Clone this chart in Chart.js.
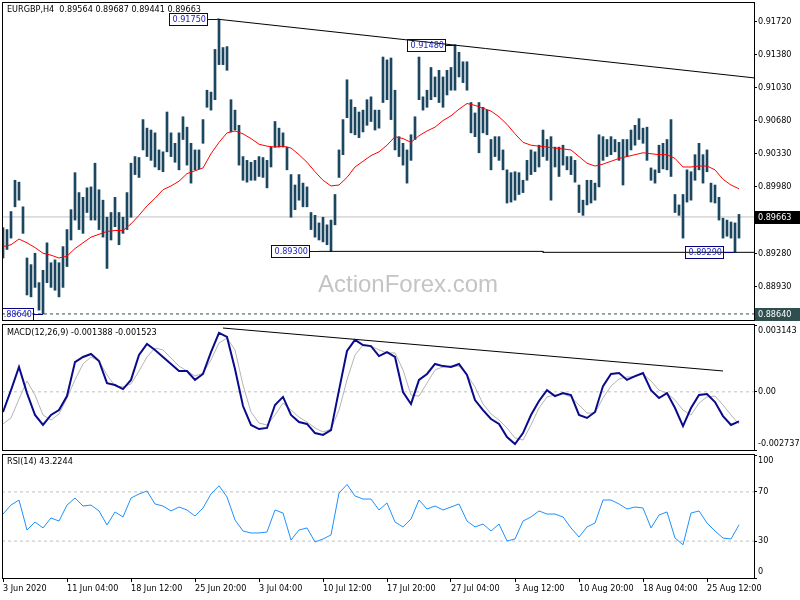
<!DOCTYPE html>
<html>
<head>
<meta charset="utf-8">
<script src="https://cdn.jsdelivr.net/npm/chart.js@4.4.1/dist/chart.umd.min.js"></script>
<style>
html, body { margin: 0; padding: 0; background: #fff; }
#wrap { position: relative; width: 800px; height: 600px; }
#wrap canvas { position: absolute; left: 0; top: 0; }
</style>
</head>
<body>
<div id="wrap">
  <canvas id="main" width="800" height="600"></canvas>
  <canvas id="macd" width="800" height="600"></canvas>
  <canvas id="rsi" width="800" height="600"></canvas>
</div>
<script>
// ---- data (one entry every 2nd bar) ----
const highs = [0.8955,0.8953,0.8972,0.9005,0.9003,0.8977,0.8923,0.8916,0.8928,0.8897,
  0.8910,0.8939,0.8918,0.8921,0.8918,0.8935,0.8953,0.8974,0.9013,0.8992,
  0.8987,0.8997,0.8998,0.9023,0.8995,0.8984,0.8966,0.8971,0.8987,0.8971,
  0.8966,0.8992,0.9023,0.9030,0.9029,0.9069,0.9060,0.9058,0.9055,0.9037,
  0.9035,0.9077,0.9055,0.9044,0.9055,0.9072,0.9061,0.9044,0.9037,0.9037,
  0.9069,0.9100,0.9098,0.9143,0.9175,0.9145,0.9146,0.9090,0.9079,0.9063,
  0.9030,0.9026,0.9024,0.9026,0.9030,0.9029,0.9026,0.9040,0.9067,0.9060,
  0.9055,0.9040,0.9011,0.9000,0.9011,0.9002,0.8998,0.8971,0.8968,0.8960,
  0.8966,0.8958,0.8963,0.8990,0.9037,0.9069,0.9111,0.9090,0.9082,0.9077,
  0.9079,0.9090,0.9093,0.9079,0.9079,0.9135,0.9132,0.9134,0.9100,0.9051,
  0.9044,0.9037,0.9053,0.9072,0.9135,0.9093,0.9100,0.9124,0.9114,0.9121,
  0.9114,0.9121,0.9124,0.9148,0.9140,0.9130,0.9130,0.9087,0.9076,0.9087,
  0.9082,0.9079,0.9048,0.9051,0.9051,0.9037,0.9016,0.9013,0.9014,0.9013,
  0.9005,0.9026,0.9037,0.9035,0.9042,0.9058,0.9048,0.9051,0.9040,0.9040,
  0.9042,0.9030,0.9030,0.9026,0.9000,0.8984,0.9005,0.9005,0.9002,0.9053,
  0.9051,0.9048,0.9051,0.9048,0.9045,0.9048,0.9048,0.9058,0.9063,0.9070,
  0.9060,0.9061,0.9018,0.9016,0.9042,0.9044,0.9048,0.9069,0.8990,0.8979,
  0.8990,0.9016,0.9014,0.9032,0.9044,0.9032,0.9037,0.9002,0.9000,0.8987,
  0.8965,0.8963,0.8961,0.8960,0.8969];
const lows = [0.8923,0.8932,0.8944,0.8977,0.8984,0.8949,0.8884,0.8882,0.8892,0.8868,
  0.8864,0.8897,0.8892,0.8889,0.8882,0.8892,0.8914,0.8942,0.8963,0.8953,
  0.8949,0.8971,0.8963,0.8963,0.8953,0.8945,0.8912,0.8942,0.8956,0.8937,
  0.8949,0.8953,0.8966,0.9011,0.9008,0.9037,0.9030,0.9026,0.9019,0.9016,
  0.9014,0.9035,0.9030,0.9024,0.9016,0.9048,0.9021,0.9002,0.9016,0.9017,
  0.9044,0.9082,0.9079,0.9090,0.9127,0.9127,0.9121,0.9056,0.9058,0.9021,
  0.9005,0.9003,0.9005,0.9005,0.9009,0.9008,0.8997,0.9019,0.9040,0.9040,
  0.9040,0.9016,0.8966,0.8974,0.8984,0.8977,0.8977,0.8953,0.8945,0.8942,
  0.8940,0.8937,0.8930,0.8958,0.9008,0.9032,0.9071,0.9055,0.9053,0.9050,
  0.9056,0.9063,0.9067,0.9058,0.9060,0.9087,0.9090,0.9069,0.9037,0.9030,
  0.9021,0.9002,0.9026,0.9048,0.9090,0.9079,0.9082,0.9090,0.9093,0.9087,
  0.9082,0.9095,0.9100,0.9100,0.9114,0.9108,0.9100,0.9055,0.9051,0.9034,
  0.9055,0.9053,0.9016,0.9030,0.9026,0.9016,0.8981,0.8982,0.8984,0.8990,
  0.8992,0.9005,0.9011,0.9014,0.9019,0.9030,0.9026,0.8984,0.9019,0.9009,
  0.9021,0.9016,0.9011,0.9003,0.8971,0.8968,0.8979,0.8981,0.8984,0.8998,
  0.9026,0.9030,0.9032,0.9035,0.9026,0.9000,0.9030,0.9037,0.9042,0.9048,
  0.9044,0.9026,0.9005,0.9002,0.9013,0.9017,0.9016,0.9009,0.8971,0.8968,
  0.8944,0.8982,0.8984,0.9005,0.9016,0.9002,0.9014,0.8982,0.8981,0.8963,
  0.8944,0.8946,0.8944,0.8929,0.8944];

// moving average, MACD and RSI (one entry every 4th bar)
const ma = [0.8935,0.8937,0.8943,0.8939,0.8934,0.8928,0.8926,0.8923,0.8925,0.8933,
  0.8939,0.8945,0.8948,0.8951,0.8952,0.8952,0.8959,0.8968,0.8978,0.8986,
  0.8995,0.8999,0.9004,0.9012,0.9015,0.9018,0.9033,0.9045,0.9055,0.9057,
  0.9054,0.9049,0.9043,0.9041,0.9040,0.9041,0.9039,0.9032,0.9024,0.9014,
  0.9005,0.8999,0.9000,0.9008,0.9019,0.9025,0.9031,0.9035,0.9042,0.9051,
  0.9049,0.9045,0.9052,0.9057,0.9061,0.9068,0.9073,0.9080,0.9086,0.9084,
  0.9081,0.9078,0.9072,0.9064,0.9054,0.9045,0.9042,0.9041,0.9040,0.9039,
  0.9038,0.9037,0.9030,0.9023,0.9020,0.9022,0.9025,0.9028,0.9030,0.9032,
  0.9034,0.9033,0.9032,0.9032,0.9028,0.9019,0.9019,0.9020,0.9020,0.9016,
  0.9006,0.9000,0.8996];
const macdMain = [-0.00095,0.00008,0.00117,-0.00006,-0.00109,-0.00156,-0.00109,-0.00086,-0.0002,0.0014,
  0.00164,0.00178,0.00145,0.00041,0.00032,0.00013,0.00056,0.00173,0.00225,0.00197,
  0.00164,0.00131,0.00098,0.00098,0.00056,0.00084,0.00187,0.00277,0.00258,0.00107,
  -0.00067,-0.00156,-0.00175,-0.0017,-0.00062,-0.00024,-0.00109,-0.00142,-0.00151,-0.00194,
  -0.00203,-0.0018,0.00008,0.00192,0.00244,0.0022,0.00215,0.00168,0.00187,0.00164,
  -0.00001,-0.00057,0.00056,0.00084,0.00131,0.00121,0.00117,0.00131,0.00079,-0.00039,
  -0.00086,-0.00128,-0.00151,-0.00213,-0.00246,-0.00194,-0.00109,-0.00043,0.00008,-0.0002,
  -0.00006,-0.00015,-0.00109,-0.00123,-0.00095,0.00027,0.00084,0.00088,0.00056,0.00074,
  0.00088,0.00008,-0.00029,-0.00006,-0.00076,-0.00161,-0.00076,-0.00015,-0.0001,-0.00048,
  -0.00114,-0.00156,-0.00139];
const macdSignal = [-0.00151,-0.00123,-0.00034,0.00051,-0.00015,-0.00109,-0.00133,-0.00104,-0.00029,0.00056,
  0.00131,0.00164,0.00145,0.00079,0.00027,0.00023,0.00037,0.00098,0.00164,0.00206,
  0.00197,0.00159,0.00121,0.00098,0.00074,0.00088,0.0015,0.0023,0.00253,0.00197,
  0.00032,-0.00095,-0.00147,-0.00156,-0.00109,-0.00053,-0.00086,-0.00119,-0.00142,-0.0017,
  -0.00189,-0.00175,-0.00086,0.00056,0.00173,0.0022,0.00215,0.00197,0.00183,0.00183,
  0.00103,-0.00015,-0.0002,0.00041,0.00103,0.00117,0.00121,0.00121,0.00079,0.00023,
  -0.00057,-0.00104,-0.00133,-0.0017,-0.00217,-0.00227,-0.00156,-0.00076,-0.00024,-0.00015,
  -0.0001,-0.00024,-0.00062,-0.001,-0.001,-0.00029,0.00027,0.0006,0.0007,0.0007,
  0.00084,0.00051,0.00008,-0.00006,-0.00039,-0.00086,-0.00109,-0.00053,-0.00024,-0.0002,
  -0.00062,-0.00109,-0.00152];
const rsi = [52.0,59.3,63.4,39.0,45.5,40.7,48.8,46.3,59.3,65.0,
  58.5,59.3,54.5,43.1,53.7,49.6,65.0,68.3,70.7,60.2,
  58.5,54.5,57.7,55.3,50.4,56.9,68.3,75.0,65.9,47.2,
  38.2,36.6,36.6,37.4,55.3,52.8,30.9,39.0,40.7,29.3,
  31.7,35.0,69.1,76.0,66.7,64.2,64.2,55.3,61.0,45.5,
  41.5,48.0,63.4,56.1,58.5,55.3,57.7,60.2,46.3,41.5,
  43.9,38.2,43.9,30.1,31.7,46.3,49.6,54.5,52.0,52.0,
  49.6,40.7,33.3,41.5,44.7,63.4,63.4,60.2,56.1,57.7,
  56.9,40.7,51.2,53.7,32.5,27.0,52.8,54.5,44.7,38.2,
  32.5,31.7,43.2];

// axis ticks and labels
const xLabels = ['3 Jun 2020','11 Jun 04:00','18 Jun 12:00','25 Jun 20:00','3 Jul 04:00','10 Jul 12:00',
  '17 Jul 20:00','27 Jul 04:00','3 Aug 12:00','10 Aug 20:00','18 Aug 04:00','25 Aug 12:00'];
const xLabelBars = [0,32,64,96,128,160,192,224,256,288,320,352];
const priceTicks = [0.9172,0.9138,0.9103,0.9068,0.9033,0.8998,0.8928,0.8893];
const macdTicks = [0.003143, 0, -0.002737];
const macdTickText = ['0.003143', '0.00', '-0.002737'];
const rsiTicks = [100, 70, 30, 0];

// price marks and drawn lines
const lastClose = 0.89663;
const lowMark = 0.8864;
const markBars = [107, 226, 158, 365, 20];
const markPrices = [0.9175, 0.9148, 0.8930, 0.8929, 0.8864];
const trendBars = [107, 375.5];
const trendPrices = [0.9175, 0.9113];
const supportBars = [158, 270, 270, 375.5];
const supportPrices = [0.8930, 0.8930, 0.8929, 0.8929];
const macdTrendBars = [110, 360];
const macdTrendVals = [0.0030, 0.00098];

const FAMILY = "'DejaVu Sans Condensed', 'Liberation Sans', sans-serif";
const FONT = "9px " + FAMILY;
Chart.defaults.font.family = FAMILY;
Chart.defaults.font.size = 9;
Chart.defaults.color = '#000';

const pts = (xs, ys) => xs.map((x, i) => ({x: x, y: ys[i]}));
const every4 = arr => arr.map((v, k) => ({x: k * 4, y: v}));

const frame = {
  id: 'frame',
  afterDraw(c) {
    const a = c.chartArea, ctx = c.ctx;
    ctx.save();
    ctx.strokeStyle = '#000';
    ctx.lineWidth = 1;
    ctx.strokeRect(a.left + 0.5, a.top - 0.5, a.right - a.left, a.bottom - a.top + 1);
    ctx.restore();
  }
};

function rightLabels(c, vals, texts) {
  const {ctx, chartArea: a, scales: {y}} = c;
  ctx.save();
  ctx.font = FONT;
  ctx.fillStyle = '#000';
  ctx.textBaseline = 'middle';
  vals.forEach((v, i) => {
    let py = y.getPixelForValue(v);
    py = Math.min(Math.max(py, a.top + 6), a.bottom - 6);
    ctx.fillText(texts[i], a.right + 4, py);
  });
  ctx.restore();
}

function title(c, txt, py) {
  const ctx = c.ctx;
  ctx.save();
  ctx.font = FONT;
  ctx.fillStyle = '#000';
  ctx.textBaseline = 'middle';
  ctx.fillText(txt, 7, py);
  ctx.restore();
}

const xScale = {
  type: 'linear', min: -0.5, max: 375.5, offset: false, display: false
};
const yScale = (min, max, ticks) => ({
  position: 'right', min: min, max: max,
  afterFit: s => { s.width = 46; },
  afterBuildTicks: s => { s.ticks = ticks.map(v => ({value: v})); },
  ticks: {display: false},
  grid: {drawOnChartArea: false, drawTicks: true, tickLength: 3, color: '#000'},
  border: {display: false}
});
const common = {
  responsive: false, animation: false, events: [],
  plugins: {legend: {display: false}, tooltip: {enabled: false}}
};

// ---- main price panel ----
new Chart(document.getElementById('main'), {
  type: 'bar',
  data: {
    datasets: [
      {type: 'line', data: every4(ma), borderColor: '#ff0000', borderWidth: 1, pointRadius: 0, order: 0},
      {type: 'line', data: pts(trendBars, trendPrices), borderColor: '#000', borderWidth: 1, pointRadius: 0, order: 1},
      {type: 'line', data: pts(supportBars, supportPrices), borderColor: '#000', borderWidth: 1, pointRadius: 0, order: 1},
      {data: highs.map((h, i) => ({x: i * 2, y: [lows[i], h]})), backgroundColor: '#1a4660',
        barThickness: 2, borderWidth: 0, order: 5},
      {type: 'line', data: pts([-0.5, 375.5], [lastClose, lastClose]), borderColor: '#c0c0c0', borderWidth: 1, pointRadius: 0, order: 9},
      {type: 'line', data: pts([-0.5, 375.5], [lowMark, lowMark]), borderColor: '#2f4f4f', borderWidth: 1,
        borderDash: [3, 3], pointRadius: 0, order: 9}
    ]
  },
  options: Object.assign({}, common, {
    layout: {padding: {left: 2, top: 3, right: 0, bottom: 280}},
    scales: {x: xScale, y: yScale(0.88576, 0.9192, priceTicks)}
  }),
  plugins: [frame, {
    id: 'mainText',
    beforeDatasetsDraw(c) {
      const ctx = c.ctx;
      ctx.save();
      ctx.font = "24px 'Liberation Sans'";
      ctx.fillStyle = '#c4c4c4';
      ctx.textAlign = 'center';
      ctx.textBaseline = 'middle';
      ctx.fillText('ActionForex.com', 408, 285);
      ctx.restore();
    },
    afterDraw(c) {
      const {ctx, chartArea: a, scales: {x, y}} = c;
      title(c, 'EURGBP,H4  0.89564 0.89687 0.89441 0.89663', 10);
      rightLabels(c, priceTicks, priceTicks.map(v => v.toFixed(5)));
      // price marks
      ctx.save();
      ctx.beginPath();
      ctx.rect(a.left + 1, a.top, a.right - a.left, a.bottom - a.top);
      ctx.clip();
      ctx.font = FONT;
      ctx.textBaseline = 'middle';
      markBars.forEach((b, i) => {
        const px = x.getPixelForValue(b), py = Math.round(y.getPixelForValue(markPrices[i])) + 0.5;
        const txt = markPrices[i].toFixed(5);
        const w = Math.round(ctx.measureText(txt).width) + 5;
        const r = Math.round(px) - 10 + 0.5;
        ctx.strokeStyle = '#000080';
        ctx.strokeRect(r - w, py - 6, w, 12);
        ctx.beginPath();
        ctx.moveTo(r, py);
        ctx.lineTo(px, py);
        ctx.stroke();
        ctx.fillStyle = '#2020c0';
        ctx.fillText(txt, r - w + 3, py + 0.5);
      });
      ctx.restore();
      // right axis boxes
      ctx.save();
      ctx.font = FONT;
      ctx.textBaseline = 'middle';
      [[lastClose, '#000'], [lowMark, '#2f4f4f']].forEach(([v, col]) => {
        let py = y.getPixelForValue(v);
        py = Math.min(py, a.bottom - 6);
        ctx.fillStyle = col;
        ctx.fillRect(a.right + 1, Math.round(py) - 6, 45, 13);
        ctx.fillStyle = '#fff';
        ctx.fillText(v.toFixed(5), a.right + 4, py + 0.5);
      });
      ctx.restore();
    }
  }]
});

// ---- MACD panel ----
new Chart(document.getElementById('macd'), {
  type: 'line',
  data: {
    datasets: [
      {data: every4(macdMain), borderColor: '#0a0a8c', borderWidth: 2, pointRadius: 0},
      {data: every4(macdSignal), borderColor: '#b4b4b4', borderWidth: 1, pointRadius: 0},
      {data: pts(macdTrendBars, macdTrendVals), borderColor: '#000', borderWidth: 1, pointRadius: 0},
      {data: pts([-0.5, 375.5], [0, 0]), borderColor: '#c0c0c0', borderWidth: 1, borderDash: [3, 3], pointRadius: 0}
    ]
  },
  options: Object.assign({}, common, {
    layout: {padding: {left: 2, top: 325, right: 0, bottom: 150}},
    scales: {x: xScale, y: yScale(-0.002737, 0.003143, macdTicks)}
  }),
  plugins: [frame, {
    id: 'macdText',
    afterDraw(c) {
      title(c, 'MACD(12,26,9) -0.001388 -0.001523', 333);
      rightLabels(c, macdTicks, macdTickText);
    }
  }]
});

// ---- RSI panel with the time axis ----
new Chart(document.getElementById('rsi'), {
  type: 'line',
  data: {
    datasets: [
      {data: every4(rsi), borderColor: '#1e90ff', borderWidth: 1, pointRadius: 0},
      {data: pts([-0.5, 375.5], [70, 70]), borderColor: '#c0c0c0', borderWidth: 1, borderDash: [3, 3], pointRadius: 0},
      {data: pts([-0.5, 375.5], [30, 30]), borderColor: '#c0c0c0', borderWidth: 1, borderDash: [3, 3], pointRadius: 0}
    ]
  },
  options: Object.assign({}, common, {
    layout: {padding: {left: 2, top: 455, right: 0, bottom: 0}},
    scales: {
      x: {
        type: 'linear', min: -0.5, max: 375.5, offset: false,
        afterFit: s => { s.height = 22; },
        afterBuildTicks: s => { s.ticks = xLabelBars.map(v => ({value: v})); },
        ticks: {
          align: 'start', maxRotation: 0, autoSkip: false, padding: 1,
          callback: (v, i) => xLabels[i]
        },
        grid: {drawOnChartArea: false, drawTicks: true, tickLength: 4, color: '#000'},
        border: {display: false}
      },
      y: yScale(0, 100, rsiTicks)
    }
  }),
  plugins: [frame, {
    id: 'rsiText',
    afterDraw(c) {
      title(c, 'RSI(14) 43.2244', 462);
      rightLabels(c, rsiTicks, rsiTicks.map(String));
    }
  }]
});
</script>
</body>
</html>
